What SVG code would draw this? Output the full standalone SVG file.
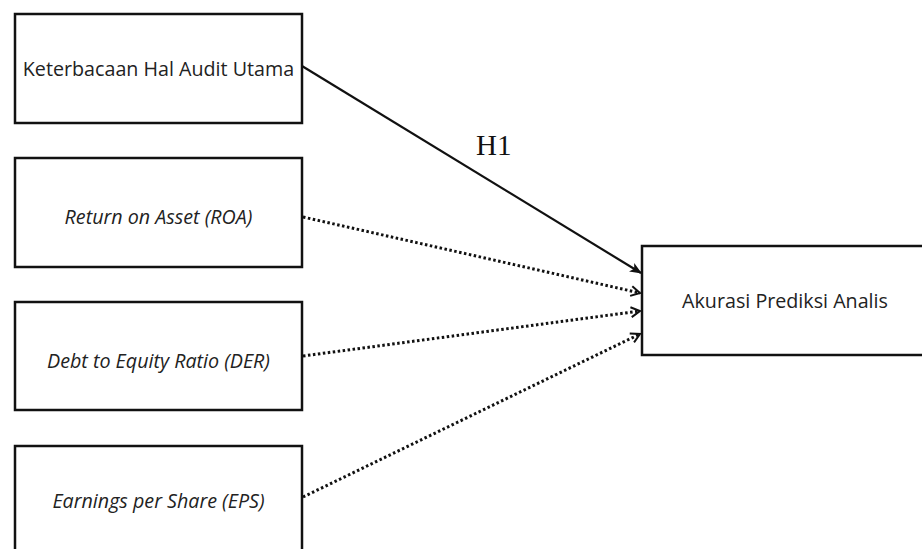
<svg xmlns="http://www.w3.org/2000/svg" width="922" height="549" viewBox="0 0 922 549">
<style>
.box{fill:#fff;stroke:#111;stroke-width:2.5}
.t{font-family:"Open Sans","Noto Sans",sans-serif;font-size:19.7px;fill:#222;text-anchor:middle}
.i{font-style:italic}
.solid{stroke:#111;stroke-width:2.2;fill:none}
.dot{stroke:#111;stroke-width:3;fill:none;stroke-dasharray:2.5 2.5}
.h{font-family:"Liberation Serif","Times New Roman",serif;font-size:29px;fill:#111}
</style>
<defs>
<marker id="fill" markerWidth="12" markerHeight="10" refX="11" refY="5" orient="auto" markerUnits="userSpaceOnUse">
<path d="M0,0 L12,5 L0,10 L3,5 Z" fill="#111"/>
</marker>
<marker id="open" markerWidth="12" markerHeight="12" refX="10" refY="6" orient="auto" markerUnits="userSpaceOnUse">
<path d="M1,1 L10,6 L1,11" fill="none" stroke="#111" stroke-width="2"/>
</marker>
</defs>
<rect width="922" height="549" fill="#fff"/>
<g id="connectors">
<line class="solid" x1="302" y1="66" x2="641" y2="273" marker-end="url(#fill)"/>
<line class="dot" x1="303" y1="217" x2="640" y2="293" marker-end="url(#open)"/>
<line class="dot" x1="303" y1="356" x2="640" y2="311" marker-end="url(#open)"/>
<line class="dot" x1="303" y1="497" x2="640" y2="334" marker-end="url(#open)"/>
<text class="h" x="476" y="155">H1</text>
</g>
<g id="n1"><rect class="box" x="15" y="14" width="287" height="109"/><text class="t" x="158.5" y="76">Keterbacaan Hal Audit Utama</text></g>
<g id="n2"><rect class="box" x="15" y="158" width="287" height="109"/><text class="t i" x="158.5" y="224">Return on Asset (ROA)</text></g>
<g id="n3"><rect class="box" x="15" y="302" width="287" height="108"/><text class="t i" x="158.5" y="368">Debt to Equity Ratio (DER)</text></g>
<g id="n4"><rect class="box" x="15" y="446" width="287" height="110"/><text class="t i" x="158.5" y="508">Earnings per Share (EPS)</text></g>
<g id="n5"><rect class="box" x="642" y="246" width="285" height="109"/><text class="t" x="785" y="308">Akurasi Prediksi Analis</text></g>
</svg>
